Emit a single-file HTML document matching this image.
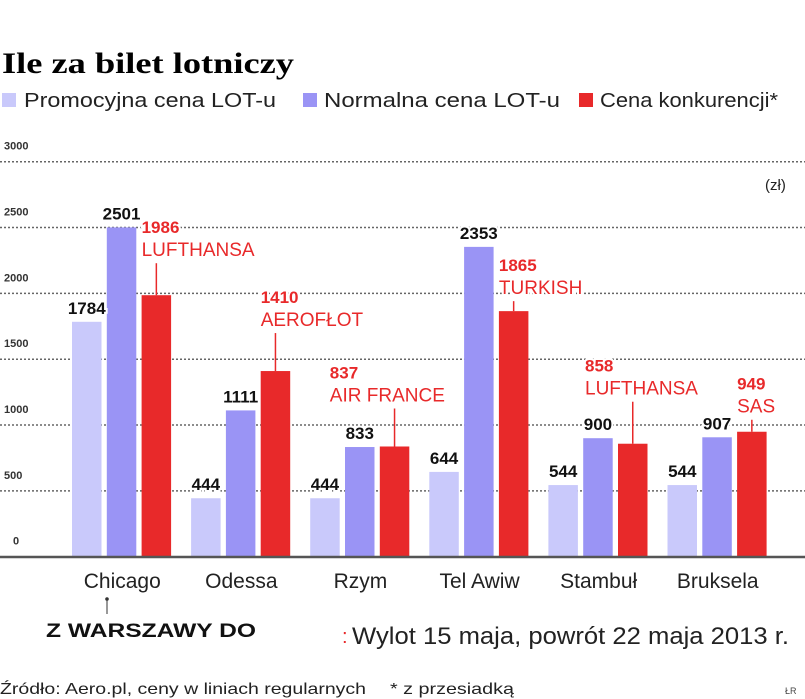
<!DOCTYPE html>
<html><head><meta charset="utf-8"><style>
html,body{margin:0;padding:0;background:#fff;width:805px;height:699px;overflow:hidden}
svg{display:block;font-family:"Liberation Sans",sans-serif}
</style></head><body>
<svg id="c" width="805" height="699" viewBox="0 0 805 699">
<text x="2" y="73" font-family="Liberation Serif,serif" font-weight="bold" font-size="30" textLength="292" lengthAdjust="spacingAndGlyphs">Ile za bilet lotniczy</text>
<g>
<rect x="2" y="93" width="14" height="14" fill="#c9c9fb"/>
<text x="24" y="107" font-size="20" fill="#222" textLength="252" lengthAdjust="spacingAndGlyphs">Promocyjna cena LOT-u</text>
<rect x="303" y="93" width="14" height="14" fill="#9a94f5"/>
<text x="324" y="107" font-size="20" fill="#222" textLength="236" lengthAdjust="spacingAndGlyphs">Normalna cena LOT-u</text>
<rect x="579" y="93" width="14" height="14" fill="#e8292a"/>
<text x="600" y="107" font-size="20" fill="#222" textLength="178" lengthAdjust="spacingAndGlyphs">Cena konkurencji*</text>
</g>
<text x="765" y="190" font-size="15" fill="#222">(zł)</text>
<g id="grid"></g>
<g id="bars"></g>
<g id="labels"></g>
<line x1="0" y1="557" x2="805" y2="557" stroke="#555" stroke-width="2.5"/>
<line x1="107" y1="598" x2="107" y2="614" stroke="#333" stroke-width="1"/>
<circle cx="107" cy="599" r="1.8" fill="#333"/>
<text x="46" y="637" font-size="19" font-weight="bold" fill="#111" textLength="210" lengthAdjust="spacingAndGlyphs">Z WARSZAWY DO</text>
<text x="342" y="643" font-size="20" fill="#e8292a">:</text>
<text x="352" y="644" font-size="24" fill="#222" textLength="437" lengthAdjust="spacingAndGlyphs">Wylot 15 maja, powrót 22 maja 2013 r.</text>
<text x="0" y="694" font-size="16" fill="#222" textLength="366" lengthAdjust="spacingAndGlyphs">Źródło: Aero.pl, ceny w liniach regularnych</text>
<text x="390" y="694" font-size="16" fill="#222" textLength="124" lengthAdjust="spacingAndGlyphs">* z przesiadką</text>
<text x="785" y="694" font-size="9" fill="#444">ŁR</text>
</svg>
<script>
const categories=["Chicago","Odessa","Rzym","Tel Awiw","Stambuł","Bruksela"];
const promo=[1784,444,444,644,544,544];
const normal=[2501,1111,833,2353,900,907];
const competitor=[1986,1410,837,1865,858,949];
const carriers=["LUFTHANSA","AEROFŁOT","AIR FRANCE","TURKISH","LUFTHANSA","SAS"];
const ticks=[0,500,1000,1500,2000,2500,3000];
const NS="http://www.w3.org/2000/svg";
const y=v=>556.7-v*0.13167;
const gx=i=>72+i*119.1;
function mk(t,a,p){const e=document.createElementNS(NS,t);for(const k in a)e.setAttribute(k,a[k]);p.appendChild(e);return e;}
const G=document.getElementById('grid'),B=document.getElementById('bars'),L=document.getElementById('labels');
ticks.forEach(t=>{
 if(t>0){const l=mk('line',{x1:0,x2:805,y1:y(t),y2:y(t),stroke:'#666','stroke-width':1.5,'stroke-dasharray':'2 2'},G);
 
 }
 const tx=mk('text',{x:t?4:13,y:y(t)-12,'font-size':11,'font-weight':'bold',fill:'#333'},G);tx.textContent=t;
 
 
});
const W=29.5;
function val(x,v,txt,color){
 const t=mk('text',{x:x,y:y(v)-8,'font-size':17,'font-weight':'bold',fill:color,'text-anchor':'middle',stroke:'#fff','stroke-width':4,'paint-order':'stroke'},L);t.textContent=txt;return t;}
categories.forEach((c,i)=>{
 const x0=gx(i);
 const series=[[promo,'#c9c9fb','promo'],[normal,'#9a94f5','normal'],[competitor,'#e8292a','competitor']];
 series.forEach(([arr,col,nm],j)=>{
  const x=x0+j*34.8;
  const r=mk('rect',{x:x,y:y(arr[i]),width:W,height:556.7-y(arr[i]),fill:col},B);
  
  
  if(j<2){const t=val(x+W/2,arr[i],arr[i],'#111');
   
   }
 });
 const rx=x0+2*34.8;
 const offs=[[0,62],[0,68],[-50,68],[0,40],[-33,72],[0,42]];
 const [dx,up]=offs[i];
 const topY=y(competitor[i]);
 const lx=rx+W/2;
 mk('line',{x1:lx,x2:lx,y1:topY,y2:topY-up+30,stroke:'#e8292a','stroke-width':1.5},L);
 const ax=rx+dx;
 const t1=mk('text',{x:ax,y:topY-up,'font-size':17,'font-weight':'bold',fill:'#e8292a',stroke:'#fff','stroke-width':4,'paint-order':'stroke'},L);t1.textContent=competitor[i];
 
 
 const t2=mk('text',{x:ax,y:topY-up+23,'font-size':19,fill:'#e8292a',stroke:'#fff','stroke-width':4,'paint-order':'stroke'},L);t2.textContent=carriers[i];
 
 
 const cl=mk('text',{x:x0+W*1.5+6,y:588,'font-size':21,fill:'#222','text-anchor':'middle'},L);cl.textContent=c;
 
 
});
</script>
</body></html>
